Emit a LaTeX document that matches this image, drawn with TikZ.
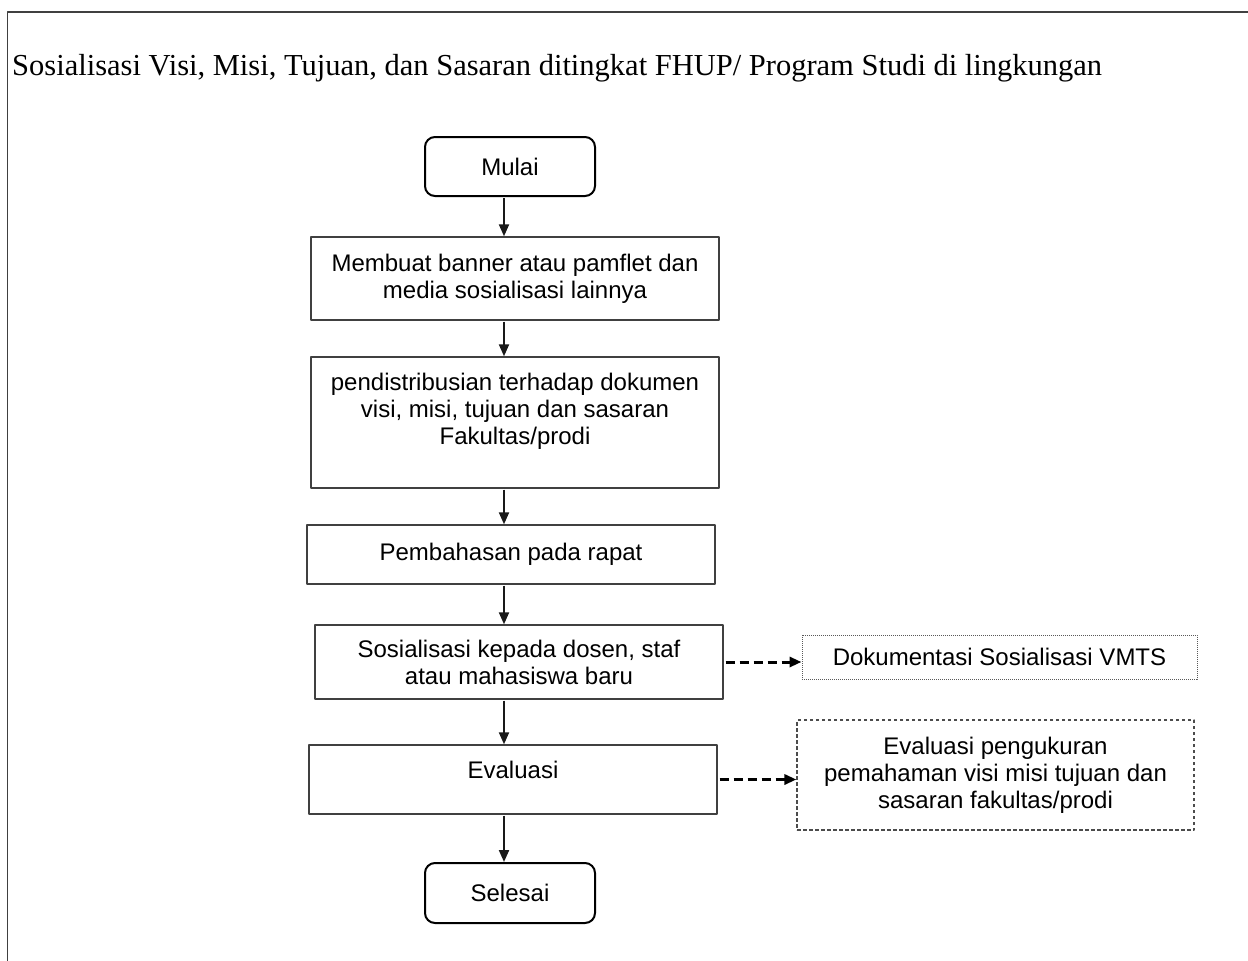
\documentclass[tikz,border=0pt]{standalone}
\usepackage{fontspec}
\setmainfont{Liberation Serif}
\newfontfamily\arialfont{Liberation Sans}
\usetikzlibrary{arrows.meta}

\begin{document}
\begin{tikzpicture}[x=1pt,y=-1pt,line join=round,>={Triangle[width=10pt,length=12pt]},
  font=\arialfont\fontsize{24}{27}\selectfont,
  box/.style={draw=black!75,line width=1.4pt,align=center,inner sep=0pt,minimum width=408},
  terminal/.style={box,draw=black,line width=2pt,rounded corners=10pt,minimum width=170},
  docbox/.style={draw=black!65,line width=1pt,align=center,inner sep=0pt,dash pattern=on 1pt off 1pt},
  notebox/.style={draw=black!70,line width=1.1pt,align=center,inner sep=0pt,dash pattern=on 3.5pt off 2.5pt},
  flow/.style={->,line width=2.1pt,black!90},
  side/.style={->,line width=3pt,dash pattern=on 9pt off 5pt}]
\useasboundingbox (0,0) rectangle (1248,961);
\draw[black!75,line width=1.6pt] (7.5,961) -- (7.5,12) -- (1248,12);
\node[anchor=base west,inner sep=0pt,font=\rmfamily\fontsize{30.5}{36}\selectfont] (title) at (12,75)
  {Sosialisasi Visi, Misi, Tujuan, dan Sasaran ditingkat FHUP/ Program Studi di lingkungan};
% alur utama
\node[terminal,minimum height=59] (mulai) at (510,166.5) {Mulai};
\node[box,minimum height=83] (membuat) at (515,278.5) {Membuat banner atau pamflet dan\\media sosialisasi lainnya};
\node[box,minimum height=131] (distribusi) at (515,422.5) {pendistribusian terhadap dokumen\\visi, misi, tujuan dan sasaran\\Fakultas/prodi\\\mbox{}};
\node[box,minimum height=59] (pembahasan) at (511,554.5) {Pembahasan pada rapat};
\node[box,minimum height=74] (sosialisasi) at (519,662) {Sosialisasi kepada dosen, staf\\atau mahasiswa baru};
\node[box,minimum height=69] (evaluasi) at (513,779.5) {Evaluasi\\[-8pt]\mbox{}};
\node[terminal,minimum height=60] (selesai) at (510,893) {Selesai};
% keluaran
\node[docbox,minimum width=395,minimum height=44] (dokumentasi) at (999.5,657) {Dokumentasi Sosialisasi VMTS};
\node[notebox,minimum width=397,minimum height=110] (pengukuran) at (995.5,775)
  {Evaluasi pengukuran\\pemahaman visi misi tujuan dan\\sasaran fakultas/prodi};
\coordinate (axis) at (504,0);
\foreach \a/\b in {mulai/membuat,membuat/distribusi,distribusi/pembahasan,pembahasan/sosialisasi,sosialisasi/evaluasi,evaluasi/selesai}
  \draw[flow] ([yshift=-1pt]\a.south -| axis) -- (\b.north -| axis);
\draw[side] ([xshift=2pt]sosialisasi.east) -- (sosialisasi.east -| dokumentasi.west);
\draw[side] ([xshift=2pt]evaluasi.east) -- (evaluasi.east -| pengukuran.west);
\end{tikzpicture}
\end{document}
